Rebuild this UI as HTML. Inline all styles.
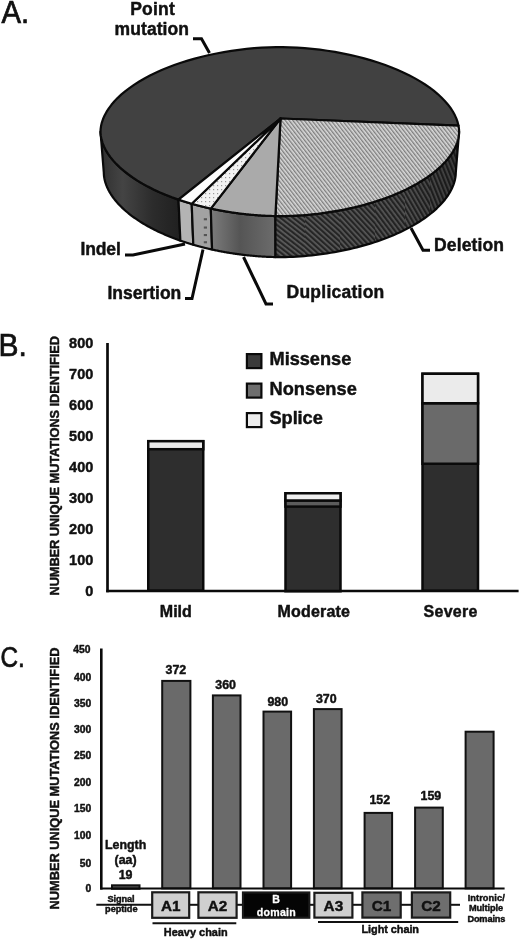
<!DOCTYPE html>
<html><head><meta charset="utf-8"><title>Figure</title>
<style>
html,body{margin:0;padding:0;background:#fff;}
body{width:520px;height:941px;overflow:hidden;font-family:"Liberation Sans",sans-serif;}
svg{display:block;filter:grayscale(1) blur(0.3px);}
text{font-family:"Liberation Sans",sans-serif;fill:#111;}
.b{font-weight:bold;stroke:#111;stroke-width:0.45px;stroke-linejoin:round;}
.pl{stroke:#111;stroke-width:0.7px;}
</style></head><body>
<svg width="520" height="941" viewBox="0 0 520 941">
<defs>
<pattern id="hatchL" width="3" height="3" patternUnits="userSpaceOnUse" patternTransform="rotate(-38)">
<rect width="3" height="3" fill="#dadada"/><rect width="1.35" height="3" fill="#7e7e7e"/>
</pattern>
<pattern id="hD0" width="3.9" height="3.9" patternUnits="userSpaceOnUse" patternTransform="rotate(-52)"><rect width="3.9" height="3.9" fill="#5e5e5e"/><rect width="2.2" height="3.9" fill="#262626"/></pattern>
<pattern id="hD1" width="3.9" height="3.9" patternUnits="userSpaceOnUse" patternTransform="rotate(-48)"><rect width="3.9" height="3.9" fill="#5e5e5e"/><rect width="2.2" height="3.9" fill="#262626"/></pattern>
<pattern id="hD2" width="3.9" height="3.9" patternUnits="userSpaceOnUse" patternTransform="rotate(-43)"><rect width="3.9" height="3.9" fill="#5e5e5e"/><rect width="2.2" height="3.9" fill="#262626"/></pattern>
<pattern id="hD3" width="3.9" height="3.9" patternUnits="userSpaceOnUse" patternTransform="rotate(-37)"><rect width="3.9" height="3.9" fill="#5e5e5e"/><rect width="2.2" height="3.9" fill="#262626"/></pattern>
<pattern id="hD4" width="3.9" height="3.9" patternUnits="userSpaceOnUse" patternTransform="rotate(-30)"><rect width="3.9" height="3.9" fill="#5e5e5e"/><rect width="2.2" height="3.9" fill="#262626"/></pattern>
<pattern id="hD5" width="3.9" height="3.9" patternUnits="userSpaceOnUse" patternTransform="rotate(-22)"><rect width="3.9" height="3.9" fill="#5e5e5e"/><rect width="2.2" height="3.9" fill="#262626"/></pattern>
<clipPath id="cDel"><path d="M459.10 131.60 L459.05 133.18 L458.90 134.88 L458.66 136.63 L458.31 138.40 L457.87 140.20 L457.33 142.01 L456.69 143.82 L455.95 145.65 L455.12 147.48 L454.19 149.31 L453.17 151.14 L452.05 152.97 L450.84 154.80 L449.53 156.62 L448.13 158.43 L446.64 160.23 L445.05 162.03 L443.38 163.81 L441.62 165.58 L439.77 167.33 L437.83 169.07 L435.81 170.80 L433.70 172.50 L431.51 174.19 L429.24 175.85 L426.88 177.50 L424.45 179.12 L421.94 180.72 L419.36 182.30 L416.70 183.85 L413.96 185.37 L411.16 186.86 L408.29 188.33 L405.35 189.77 L402.34 191.18 L399.27 192.55 L396.14 193.90 L392.95 195.21 L389.71 196.49 L386.40 197.73 L383.04 198.94 L379.64 200.11 L376.18 201.24 L372.67 202.34 L369.13 203.40 L365.54 204.42 L361.91 205.40 L358.24 206.35 L354.54 207.25 L350.80 208.11 L347.04 208.93 L343.25 209.70 L339.44 210.44 L335.61 211.13 L331.76 211.77 L327.89 212.38 L324.02 212.94 L320.13 213.45 L316.25 213.92 L312.36 214.34 L308.48 214.72 L304.61 215.06 L300.76 215.34 L296.93 215.59 L293.13 215.78 L289.38 215.93 L285.70 216.03 L282.14 216.09 L278.88 216.10 L275.40 216.06 L275.48 257.06 L278.90 257.10 L282.09 257.09 L285.59 257.03 L289.20 256.93 L292.89 256.78 L296.61 256.59 L300.37 256.34 L304.15 256.06 L307.95 255.72 L311.76 255.34 L315.57 254.92 L319.39 254.45 L323.20 253.94 L327.01 253.38 L330.80 252.77 L334.58 252.13 L338.34 251.44 L342.08 250.70 L345.80 249.93 L349.50 249.11 L353.16 248.25 L356.79 247.35 L360.39 246.40 L363.96 245.42 L367.48 244.40 L370.97 243.34 L374.41 242.24 L377.80 241.11 L381.14 239.94 L384.44 238.73 L387.68 237.49 L390.87 236.21 L394.00 234.90 L397.08 233.55 L400.09 232.18 L403.04 230.77 L405.92 229.33 L408.74 227.86 L411.49 226.37 L414.18 224.85 L416.79 223.30 L419.33 221.72 L421.79 220.12 L424.18 218.50 L426.48 216.85 L428.72 215.19 L430.87 213.50 L432.93 211.80 L434.92 210.07 L436.82 208.33 L438.64 206.58 L440.37 204.81 L442.01 203.03 L443.56 201.23 L445.03 199.43 L446.40 197.62 L447.69 195.80 L448.88 193.97 L449.98 192.14 L450.98 190.31 L451.89 188.48 L452.71 186.65 L453.43 184.82 L454.06 183.01 L454.59 181.20 L455.03 179.40 L455.36 177.63 L455.61 175.88 L455.75 174.18 L455.80 172.60 Z"/></clipPath>
<pattern id="dots" width="4" height="4" patternUnits="userSpaceOnUse">
<rect width="4" height="4" fill="#f2f2f2"/><rect x="1" y="1" width="1.2" height="1.2" fill="#999"/>
</pattern>
<linearGradient id="gDup" x1="0" x2="1" y1="0" y2="0">
<stop offset="0" stop-color="#7c7c7c"/><stop offset="0.45" stop-color="#555"/><stop offset="1" stop-color="#6c6c6c"/>
</linearGradient>
<linearGradient id="gPm" x1="0" x2="1" y1="0" y2="0">
<stop offset="0" stop-color="#303030"/><stop offset="0.28" stop-color="#444"/><stop offset="0.65" stop-color="#2c2c2c"/><stop offset="1" stop-color="#202020"/>
</linearGradient>
<linearGradient id="gDelShade" x1="0" x2="1" y1="0" y2="0">
<stop offset="0" stop-color="#000" stop-opacity="0"/><stop offset="0.7" stop-color="#000" stop-opacity="0.1"/><stop offset="1" stop-color="#000" stop-opacity="0.35"/>
</linearGradient>
</defs>
<rect width="520" height="941" fill="#fff"/>

<!-- ============ A: pie ============ -->
<g stroke="#0a0a0a" stroke-width="2.2" stroke-linejoin="round">
<path d="M178.50 199.61 L176.48 198.91 L174.48 198.20 L172.50 197.47 L170.54 196.73 L168.60 195.98 L166.68 195.22 L164.77 194.45 L162.89 193.66 L161.03 192.86 L159.19 192.05 L157.38 191.23 L155.58 190.40 L153.81 189.56 L152.06 188.70 L150.34 187.84 L148.64 186.97 L146.96 186.08 L145.31 185.19 L143.68 184.29 L142.08 183.38 L140.51 182.45 L138.96 181.52 L137.44 180.58 L135.94 179.64 L134.47 178.68 L133.03 177.71 L131.62 176.74 L130.23 175.76 L128.88 174.77 L127.55 173.78 L126.25 172.78 L124.98 171.77 L123.74 170.75 L122.53 169.73 L121.35 168.70 L120.20 167.67 L119.08 166.63 L117.99 165.59 L116.93 164.54 L115.91 163.48 L114.91 162.42 L113.95 161.36 L113.02 160.30 L112.12 159.23 L111.25 158.15 L110.42 157.08 L109.62 156.00 L108.85 154.92 L108.11 153.83 L107.41 152.75 L106.74 151.66 L106.10 150.58 L105.50 149.49 L104.93 148.40 L104.40 147.31 L103.90 146.23 L103.43 145.14 L103.00 144.06 L102.60 142.97 L102.24 141.90 L101.91 140.82 L101.61 139.75 L101.35 138.68 L101.13 137.63 L100.93 136.58 L100.78 135.53 L100.66 134.51 L100.57 133.50 L100.52 132.51 L100.50 131.60 L103.80 172.60 L103.82 173.51 L103.87 174.50 L103.95 175.51 L104.07 176.53 L104.23 177.58 L104.41 178.63 L104.64 179.68 L104.89 180.75 L105.18 181.82 L105.50 182.90 L105.86 183.97 L106.25 185.06 L106.68 186.14 L107.14 187.23 L107.63 188.31 L108.15 189.40 L108.71 190.49 L109.30 191.58 L109.93 192.66 L110.58 193.75 L111.27 194.83 L111.99 195.92 L112.75 197.00 L113.54 198.08 L114.35 199.15 L115.21 200.23 L116.09 201.30 L117.00 202.36 L117.95 203.42 L118.92 204.48 L119.93 205.54 L120.97 206.59 L122.04 207.63 L123.14 208.67 L124.27 209.70 L125.42 210.73 L126.61 211.75 L127.83 212.77 L129.08 213.78 L130.35 214.78 L131.66 215.77 L132.99 216.76 L134.35 217.74 L135.73 218.71 L137.15 219.68 L138.59 220.64 L140.06 221.58 L141.55 222.52 L143.07 223.45 L144.62 224.38 L146.19 225.29 L147.79 226.19 L149.41 227.08 L151.05 227.97 L152.72 228.84 L154.41 229.70 L156.13 230.56 L157.87 231.40 L159.63 232.23 L161.41 233.05 L163.22 233.86 L165.04 234.66 L166.89 235.45 L168.76 236.22 L170.64 236.98 L172.55 237.73 L174.48 238.47 L176.42 239.20 L178.38 239.91 L180.36 240.61 Z" fill="url(#gPm)"/>
<path d="M191.70 203.76 L191.51 203.70 L191.31 203.65 L191.12 203.59 L190.93 203.53 L190.74 203.48 L190.54 203.42 L190.35 203.37 L190.16 203.31 L189.97 203.25 L189.78 203.20 L189.58 203.14 L189.39 203.08 L189.20 203.03 L189.01 202.97 L188.82 202.91 L188.63 202.86 L188.44 202.80 L188.24 202.74 L188.05 202.68 L187.86 202.63 L187.67 202.57 L187.48 202.51 L187.29 202.45 L187.10 202.40 L186.91 202.34 L186.72 202.28 L186.53 202.22 L186.34 202.16 L186.15 202.10 L185.96 202.05 L185.77 201.99 L185.59 201.93 L185.40 201.87 L185.21 201.81 L185.02 201.75 L184.83 201.69 L184.64 201.63 L184.45 201.57 L184.27 201.51 L184.08 201.45 L183.89 201.39 L183.70 201.33 L183.51 201.27 L183.33 201.21 L183.14 201.15 L182.95 201.09 L182.76 201.03 L182.58 200.97 L182.39 200.91 L182.20 200.85 L182.02 200.79 L181.83 200.73 L181.65 200.67 L181.46 200.61 L181.27 200.55 L181.09 200.48 L180.90 200.42 L180.72 200.36 L180.53 200.30 L180.35 200.24 L180.16 200.17 L179.97 200.11 L179.79 200.05 L179.61 199.99 L179.42 199.93 L179.24 199.86 L179.05 199.80 L178.87 199.74 L178.68 199.68 L178.50 199.61 L180.36 240.61 L180.54 240.68 L180.73 240.74 L180.91 240.80 L181.09 240.86 L181.27 240.93 L181.45 240.99 L181.63 241.05 L181.81 241.11 L181.99 241.17 L182.18 241.24 L182.36 241.30 L182.54 241.36 L182.72 241.42 L182.90 241.48 L183.09 241.55 L183.27 241.61 L183.45 241.67 L183.63 241.73 L183.82 241.79 L184.00 241.85 L184.18 241.91 L184.37 241.97 L184.55 242.03 L184.73 242.09 L184.92 242.15 L185.10 242.21 L185.29 242.27 L185.47 242.33 L185.65 242.39 L185.84 242.45 L186.02 242.51 L186.21 242.57 L186.39 242.63 L186.58 242.69 L186.76 242.75 L186.95 242.81 L187.13 242.87 L187.32 242.93 L187.51 242.99 L187.69 243.05 L187.88 243.10 L188.06 243.16 L188.25 243.22 L188.44 243.28 L188.62 243.34 L188.81 243.40 L188.99 243.45 L189.18 243.51 L189.37 243.57 L189.56 243.63 L189.74 243.68 L189.93 243.74 L190.12 243.80 L190.30 243.86 L190.49 243.91 L190.68 243.97 L190.87 244.03 L191.06 244.08 L191.24 244.14 L191.43 244.20 L191.62 244.25 L191.81 244.31 L192.00 244.37 L192.19 244.42 L192.38 244.48 L192.56 244.53 L192.75 244.59 L192.94 244.65 L193.13 244.70 L193.32 244.76 Z" fill="#b4b4b4"/>
<path d="M210.80 208.55 L210.52 208.49 L210.24 208.43 L209.96 208.37 L209.68 208.31 L209.41 208.24 L209.13 208.18 L208.85 208.12 L208.57 208.06 L208.29 207.99 L208.02 207.93 L207.74 207.87 L207.46 207.81 L207.19 207.74 L206.91 207.68 L206.63 207.61 L206.35 207.55 L206.08 207.49 L205.80 207.42 L205.53 207.36 L205.25 207.29 L204.97 207.23 L204.70 207.16 L204.42 207.10 L204.15 207.03 L203.87 206.96 L203.60 206.90 L203.32 206.83 L203.05 206.76 L202.78 206.70 L202.50 206.63 L202.23 206.56 L201.95 206.49 L201.68 206.43 L201.41 206.36 L201.13 206.29 L200.86 206.22 L200.59 206.15 L200.32 206.08 L200.04 206.01 L199.77 205.94 L199.50 205.87 L199.23 205.80 L198.95 205.73 L198.68 205.66 L198.41 205.59 L198.14 205.52 L197.87 205.45 L197.60 205.38 L197.33 205.31 L197.06 205.24 L196.79 205.16 L196.52 205.09 L196.25 205.02 L195.98 204.95 L195.71 204.87 L195.44 204.80 L195.17 204.73 L194.91 204.65 L194.64 204.58 L194.37 204.51 L194.10 204.43 L193.83 204.36 L193.57 204.28 L193.30 204.21 L193.03 204.13 L192.76 204.06 L192.50 203.98 L192.23 203.91 L191.97 203.83 L191.70 203.76 L193.32 244.76 L193.58 244.83 L193.84 244.91 L194.11 244.98 L194.37 245.06 L194.63 245.13 L194.89 245.21 L195.15 245.28 L195.42 245.36 L195.68 245.43 L195.94 245.51 L196.20 245.58 L196.47 245.65 L196.73 245.73 L197.00 245.80 L197.26 245.87 L197.52 245.95 L197.79 246.02 L198.05 246.09 L198.32 246.16 L198.58 246.24 L198.85 246.31 L199.11 246.38 L199.38 246.45 L199.64 246.52 L199.91 246.59 L200.18 246.66 L200.44 246.73 L200.71 246.80 L200.98 246.87 L201.24 246.94 L201.51 247.01 L201.78 247.08 L202.05 247.15 L202.31 247.22 L202.58 247.29 L202.85 247.36 L203.12 247.43 L203.39 247.49 L203.65 247.56 L203.92 247.63 L204.19 247.70 L204.46 247.76 L204.73 247.83 L205.00 247.90 L205.27 247.96 L205.54 248.03 L205.81 248.10 L206.08 248.16 L206.35 248.23 L206.62 248.29 L206.89 248.36 L207.16 248.42 L207.44 248.49 L207.71 248.55 L207.98 248.61 L208.25 248.68 L208.52 248.74 L208.79 248.81 L209.07 248.87 L209.34 248.93 L209.61 248.99 L209.88 249.06 L210.16 249.12 L210.43 249.18 L210.70 249.24 L210.98 249.31 L211.25 249.37 L211.52 249.43 L211.80 249.49 L212.07 249.55 Z" fill="#a2a2a2"/>
<path d="M275.40 216.06 L274.53 216.05 L273.66 216.03 L272.78 216.01 L271.89 215.98 L271.00 215.95 L270.10 215.93 L269.20 215.89 L268.30 215.86 L267.39 215.82 L266.48 215.78 L265.57 215.74 L264.66 215.69 L263.74 215.64 L262.82 215.59 L261.90 215.54 L260.98 215.48 L260.06 215.43 L259.13 215.36 L258.20 215.30 L257.27 215.23 L256.34 215.16 L255.41 215.09 L254.48 215.02 L253.55 214.94 L252.62 214.86 L251.68 214.77 L250.75 214.69 L249.81 214.60 L248.88 214.51 L247.94 214.42 L247.00 214.32 L246.07 214.22 L245.13 214.12 L244.19 214.02 L243.26 213.91 L242.32 213.80 L241.38 213.69 L240.44 213.57 L239.51 213.45 L238.57 213.34 L237.63 213.21 L236.70 213.09 L235.76 212.96 L234.82 212.83 L233.89 212.70 L232.95 212.56 L232.02 212.42 L231.09 212.28 L230.15 212.14 L229.22 211.99 L228.29 211.85 L227.36 211.69 L226.43 211.54 L225.50 211.39 L224.57 211.23 L223.65 211.07 L222.72 210.90 L221.80 210.74 L220.87 210.57 L219.95 210.40 L219.03 210.22 L218.11 210.05 L217.19 209.87 L216.27 209.69 L215.36 209.50 L214.44 209.32 L213.53 209.13 L212.62 208.94 L211.71 208.75 L210.80 208.55 L212.07 249.55 L212.96 249.75 L213.86 249.94 L214.75 250.13 L215.65 250.32 L216.54 250.50 L217.44 250.69 L218.34 250.87 L219.25 251.05 L220.15 251.22 L221.05 251.40 L221.96 251.57 L222.86 251.74 L223.77 251.90 L224.68 252.07 L225.59 252.23 L226.50 252.39 L227.41 252.54 L228.33 252.69 L229.24 252.85 L230.15 252.99 L231.07 253.14 L231.98 253.28 L232.90 253.42 L233.82 253.56 L234.73 253.70 L235.65 253.83 L236.57 253.96 L237.49 254.09 L238.41 254.21 L239.33 254.34 L240.25 254.45 L241.17 254.57 L242.09 254.69 L243.01 254.80 L243.93 254.91 L244.85 255.02 L245.77 255.12 L246.69 255.22 L247.61 255.32 L248.53 255.42 L249.45 255.51 L250.36 255.60 L251.28 255.69 L252.20 255.77 L253.12 255.86 L254.03 255.94 L254.95 256.02 L255.86 256.09 L256.78 256.16 L257.69 256.23 L258.60 256.30 L259.51 256.36 L260.42 256.43 L261.33 256.48 L262.23 256.54 L263.13 256.59 L264.04 256.64 L264.94 256.69 L265.83 256.74 L266.73 256.78 L267.62 256.82 L268.51 256.86 L269.40 256.89 L270.28 256.93 L271.16 256.95 L272.03 256.98 L272.90 257.01 L273.77 257.03 L274.63 257.05 L275.48 257.06 Z" fill="url(#gDup)"/>
<g clip-path="url(#cDel)" stroke="none"><rect x="270" y="130" width="35" height="140" fill="url(#hD0)"/><rect x="305" y="130" width="35" height="140" fill="url(#hD1)"/><rect x="340" y="130" width="35" height="140" fill="url(#hD2)"/><rect x="375" y="130" width="30" height="140" fill="url(#hD3)"/><rect x="405" y="130" width="25" height="140" fill="url(#hD4)"/><rect x="430" y="130" width="42" height="140" fill="url(#hD5)"/></g>
<path d="M459.10 131.60 L459.05 133.18 L458.90 134.88 L458.66 136.63 L458.31 138.40 L457.87 140.20 L457.33 142.01 L456.69 143.82 L455.95 145.65 L455.12 147.48 L454.19 149.31 L453.17 151.14 L452.05 152.97 L450.84 154.80 L449.53 156.62 L448.13 158.43 L446.64 160.23 L445.05 162.03 L443.38 163.81 L441.62 165.58 L439.77 167.33 L437.83 169.07 L435.81 170.80 L433.70 172.50 L431.51 174.19 L429.24 175.85 L426.88 177.50 L424.45 179.12 L421.94 180.72 L419.36 182.30 L416.70 183.85 L413.96 185.37 L411.16 186.86 L408.29 188.33 L405.35 189.77 L402.34 191.18 L399.27 192.55 L396.14 193.90 L392.95 195.21 L389.71 196.49 L386.40 197.73 L383.04 198.94 L379.64 200.11 L376.18 201.24 L372.67 202.34 L369.13 203.40 L365.54 204.42 L361.91 205.40 L358.24 206.35 L354.54 207.25 L350.80 208.11 L347.04 208.93 L343.25 209.70 L339.44 210.44 L335.61 211.13 L331.76 211.77 L327.89 212.38 L324.02 212.94 L320.13 213.45 L316.25 213.92 L312.36 214.34 L308.48 214.72 L304.61 215.06 L300.76 215.34 L296.93 215.59 L293.13 215.78 L289.38 215.93 L285.70 216.03 L282.14 216.09 L278.88 216.10 L275.40 216.06 L275.48 257.06 L278.90 257.10 L282.09 257.09 L285.59 257.03 L289.20 256.93 L292.89 256.78 L296.61 256.59 L300.37 256.34 L304.15 256.06 L307.95 255.72 L311.76 255.34 L315.57 254.92 L319.39 254.45 L323.20 253.94 L327.01 253.38 L330.80 252.77 L334.58 252.13 L338.34 251.44 L342.08 250.70 L345.80 249.93 L349.50 249.11 L353.16 248.25 L356.79 247.35 L360.39 246.40 L363.96 245.42 L367.48 244.40 L370.97 243.34 L374.41 242.24 L377.80 241.11 L381.14 239.94 L384.44 238.73 L387.68 237.49 L390.87 236.21 L394.00 234.90 L397.08 233.55 L400.09 232.18 L403.04 230.77 L405.92 229.33 L408.74 227.86 L411.49 226.37 L414.18 224.85 L416.79 223.30 L419.33 221.72 L421.79 220.12 L424.18 218.50 L426.48 216.85 L428.72 215.19 L430.87 213.50 L432.93 211.80 L434.92 210.07 L436.82 208.33 L438.64 206.58 L440.37 204.81 L442.01 203.03 L443.56 201.23 L445.03 199.43 L446.40 197.62 L447.69 195.80 L448.88 193.97 L449.98 192.14 L450.98 190.31 L451.89 188.48 L452.71 186.65 L453.43 184.82 L454.06 183.01 L454.59 181.20 L455.03 179.40 L455.36 177.63 L455.61 175.88 L455.75 174.18 L455.80 172.60 Z" fill="none"/>
<path d="M459.10 131.60 L459.05 133.18 L458.90 134.88 L458.66 136.63 L458.31 138.40 L457.87 140.20 L457.33 142.01 L456.69 143.82 L455.95 145.65 L455.12 147.48 L454.19 149.31 L453.17 151.14 L452.05 152.97 L450.84 154.80 L449.53 156.62 L448.13 158.43 L446.64 160.23 L445.05 162.03 L443.38 163.81 L441.62 165.58 L439.77 167.33 L437.83 169.07 L435.81 170.80 L433.70 172.50 L431.51 174.19 L429.24 175.85 L426.88 177.50 L424.45 179.12 L421.94 180.72 L419.36 182.30 L416.70 183.85 L413.96 185.37 L411.16 186.86 L408.29 188.33 L405.35 189.77 L402.34 191.18 L399.27 192.55 L396.14 193.90 L392.95 195.21 L389.71 196.49 L386.40 197.73 L383.04 198.94 L379.64 200.11 L376.18 201.24 L372.67 202.34 L369.13 203.40 L365.54 204.42 L361.91 205.40 L358.24 206.35 L354.54 207.25 L350.80 208.11 L347.04 208.93 L343.25 209.70 L339.44 210.44 L335.61 211.13 L331.76 211.77 L327.89 212.38 L324.02 212.94 L320.13 213.45 L316.25 213.92 L312.36 214.34 L308.48 214.72 L304.61 215.06 L300.76 215.34 L296.93 215.59 L293.13 215.78 L289.38 215.93 L285.70 216.03 L282.14 216.09 L278.88 216.10 L275.40 216.06 L275.48 257.06 L278.90 257.10 L282.09 257.09 L285.59 257.03 L289.20 256.93 L292.89 256.78 L296.61 256.59 L300.37 256.34 L304.15 256.06 L307.95 255.72 L311.76 255.34 L315.57 254.92 L319.39 254.45 L323.20 253.94 L327.01 253.38 L330.80 252.77 L334.58 252.13 L338.34 251.44 L342.08 250.70 L345.80 249.93 L349.50 249.11 L353.16 248.25 L356.79 247.35 L360.39 246.40 L363.96 245.42 L367.48 244.40 L370.97 243.34 L374.41 242.24 L377.80 241.11 L381.14 239.94 L384.44 238.73 L387.68 237.49 L390.87 236.21 L394.00 234.90 L397.08 233.55 L400.09 232.18 L403.04 230.77 L405.92 229.33 L408.74 227.86 L411.49 226.37 L414.18 224.85 L416.79 223.30 L419.33 221.72 L421.79 220.12 L424.18 218.50 L426.48 216.85 L428.72 215.19 L430.87 213.50 L432.93 211.80 L434.92 210.07 L436.82 208.33 L438.64 206.58 L440.37 204.81 L442.01 203.03 L443.56 201.23 L445.03 199.43 L446.40 197.62 L447.69 195.80 L448.88 193.97 L449.98 192.14 L450.98 190.31 L451.89 188.48 L452.71 186.65 L453.43 184.82 L454.06 183.01 L454.59 181.20 L455.03 179.40 L455.36 177.63 L455.61 175.88 L455.75 174.18 L455.80 172.60 Z" fill="url(#gDelShade)" stroke="none"/>
<path d="M280.50 118.50 L178.50 199.61 L171.94 197.26 L165.60 194.78 L159.47 192.17 L153.58 189.44 L147.94 186.60 L142.56 183.65 L137.46 180.60 L132.65 177.46 L128.14 174.23 L123.94 170.92 L120.07 167.55 L116.52 164.12 L113.31 160.63 L110.45 157.11 L107.93 153.56 L105.78 149.99 L103.99 146.42 L102.56 142.87 L101.51 139.34 L100.83 135.88 L100.52 132.56 L100.59 129.47 L101.03 126.08 L101.85 122.59 L103.03 119.05 L104.59 115.49 L106.51 111.92 L108.80 108.36 L111.44 104.81 L114.43 101.31 L117.76 97.84 L121.43 94.43 L125.42 91.08 L129.73 87.80 L134.35 84.60 L139.27 81.49 L144.47 78.47 L149.94 75.56 L155.67 72.76 L161.65 70.07 L167.86 67.51 L174.29 65.07 L180.91 62.77 L187.72 60.62 L194.70 58.60 L201.82 56.74 L209.08 55.03 L216.44 53.48 L223.90 52.09 L231.42 50.87 L238.98 49.81 L246.56 48.93 L254.12 48.21 L261.62 47.68 L269.01 47.31 L276.15 47.13 L282.69 47.12 L289.79 47.28 L297.15 47.63 L304.64 48.15 L312.20 48.84 L319.78 49.71 L327.34 50.74 L334.87 51.95 L342.33 53.32 L349.71 54.85 L356.98 56.54 L364.12 58.39 L371.11 60.39 L377.94 62.53 L384.59 64.81 L391.04 67.23 L397.27 69.78 L403.28 72.45 L409.04 75.24 L414.54 78.15 L419.77 81.15 L424.72 84.25 L429.37 87.44 L433.72 90.71 L437.75 94.05 L441.45 97.46 L444.82 100.92 L447.85 104.42 L450.53 107.96 L452.85 111.52 L454.81 115.09 L456.41 118.66 L457.64 122.20 L458.50 125.70 Z" fill="#414141"/>
<path d="M280.50 118.50 L458.50 125.70 L458.75 127.14 L458.93 128.56 L459.05 129.95 L459.10 131.27 L459.08 132.51 L459.00 133.87 L458.86 135.27 L458.64 136.70 L458.37 138.15 L458.02 139.61 L457.62 141.08 L457.14 142.56 L456.60 144.05 L456.00 145.54 L455.33 147.03 L454.60 148.53 L453.80 150.02 L452.95 151.52 L452.02 153.01 L451.04 154.50 L449.99 155.99 L448.88 157.47 L447.71 158.95 L446.47 160.42 L445.18 161.89 L443.82 163.34 L442.41 164.79 L440.94 166.23 L439.41 167.66 L437.82 169.08 L436.17 170.49 L434.47 171.89 L432.71 173.27 L430.90 174.64 L429.03 176.00 L427.11 177.34 L425.14 178.67 L423.11 179.99 L421.03 181.28 L418.91 182.56 L416.73 183.83 L414.51 185.07 L412.23 186.30 L409.91 187.51 L407.55 188.70 L405.14 189.87 L402.69 191.02 L400.19 192.15 L397.65 193.26 L395.08 194.34 L392.46 195.41 L389.80 196.45 L387.11 197.47 L384.38 198.46 L381.62 199.43 L378.82 200.38 L376.00 201.30 L373.14 202.20 L370.25 203.07 L367.33 203.92 L364.38 204.74 L361.41 205.53 L358.41 206.30 L355.40 207.04 L352.36 207.76 L349.29 208.44 L346.21 209.10 L343.12 209.73 L340.01 210.33 L336.88 210.90 L333.74 211.45 L330.59 211.96 L327.43 212.45 L324.27 212.90 L321.10 213.33 L317.93 213.72 L314.75 214.09 L311.58 214.42 L308.41 214.73 L305.25 215.00 L302.10 215.25 L298.96 215.46 L295.85 215.65 L292.75 215.80 L289.69 215.92 L286.67 216.01 L283.72 216.07 L280.88 216.10 L278.26 216.09 L275.40 216.06 Z" fill="url(#hatchL)"/>
<path d="M280.50 118.50 L275.40 216.06 L274.73 216.05 L274.05 216.04 L273.36 216.02 L272.68 216.00 L271.99 215.98 L271.29 215.96 L270.60 215.94 L269.90 215.92 L269.20 215.89 L268.50 215.87 L267.80 215.84 L267.09 215.81 L266.38 215.78 L265.67 215.74 L264.96 215.71 L264.25 215.67 L263.54 215.63 L262.82 215.59 L262.11 215.55 L261.39 215.51 L260.67 215.46 L259.95 215.42 L259.23 215.37 L258.51 215.32 L257.79 215.27 L257.07 215.22 L256.34 215.16 L255.62 215.11 L254.90 215.05 L254.17 214.99 L253.45 214.93 L252.72 214.87 L251.99 214.80 L251.27 214.74 L250.54 214.67 L249.81 214.60 L249.08 214.53 L248.36 214.46 L247.63 214.38 L246.90 214.31 L246.17 214.23 L245.44 214.15 L244.71 214.07 L243.98 213.99 L243.26 213.91 L242.53 213.82 L241.80 213.74 L241.07 213.65 L240.34 213.56 L239.61 213.47 L238.88 213.38 L238.15 213.28 L237.42 213.19 L236.70 213.09 L235.97 212.99 L235.24 212.89 L234.51 212.79 L233.79 212.68 L233.06 212.58 L232.33 212.47 L231.61 212.36 L230.88 212.25 L230.15 212.14 L229.43 212.03 L228.70 211.91 L227.98 211.80 L227.26 211.68 L226.53 211.56 L225.81 211.44 L225.09 211.32 L224.37 211.19 L223.65 211.07 L222.93 210.94 L222.21 210.81 L221.49 210.68 L220.77 210.55 L220.05 210.42 L219.34 210.28 L218.62 210.15 L217.91 210.01 L217.19 209.87 L216.48 209.73 L215.76 209.59 L215.05 209.44 L214.34 209.30 L213.63 209.15 L212.92 209.00 L212.21 208.85 L211.51 208.70 L210.80 208.55 Z" fill="#aaaaaa"/>
<path d="M280.50 118.50 L210.80 208.55 L210.58 208.50 L210.37 208.45 L210.15 208.41 L209.93 208.36 L209.72 208.31 L209.50 208.26 L209.28 208.22 L209.07 208.17 L208.85 208.12 L208.63 208.07 L208.42 208.02 L208.20 207.97 L207.99 207.92 L207.77 207.88 L207.55 207.83 L207.34 207.78 L207.12 207.73 L206.91 207.68 L206.69 207.63 L206.48 207.58 L206.26 207.53 L206.05 207.48 L205.83 207.43 L205.62 207.38 L205.40 207.33 L205.19 207.28 L204.97 207.23 L204.76 207.18 L204.55 207.12 L204.33 207.07 L204.12 207.02 L203.90 206.97 L203.69 206.92 L203.48 206.87 L203.26 206.82 L203.05 206.76 L202.84 206.71 L202.62 206.66 L202.41 206.61 L202.20 206.55 L201.98 206.50 L201.77 206.45 L201.56 206.40 L201.35 206.34 L201.13 206.29 L200.92 206.24 L200.71 206.18 L200.50 206.13 L200.28 206.08 L200.07 206.02 L199.86 205.97 L199.65 205.91 L199.44 205.86 L199.23 205.80 L199.02 205.75 L198.80 205.69 L198.59 205.64 L198.38 205.59 L198.17 205.53 L197.96 205.47 L197.75 205.42 L197.54 205.36 L197.33 205.31 L197.12 205.25 L196.91 205.20 L196.70 205.14 L196.49 205.08 L196.28 205.03 L196.07 204.97 L195.86 204.92 L195.65 204.86 L195.44 204.80 L195.23 204.74 L195.02 204.69 L194.82 204.63 L194.61 204.57 L194.40 204.52 L194.19 204.46 L193.98 204.40 L193.77 204.34 L193.57 204.28 L193.36 204.23 L193.15 204.17 L192.94 204.11 L192.74 204.05 L192.53 203.99 L192.32 203.93 L192.11 203.87 L191.91 203.82 L191.70 203.76 Z" fill="url(#dots)"/>
<path d="M280.50 118.50 L191.70 203.76 L191.55 203.71 L191.40 203.67 L191.25 203.63 L191.10 203.58 L190.95 203.54 L190.80 203.50 L190.65 203.45 L190.50 203.41 L190.35 203.37 L190.20 203.32 L190.05 203.28 L189.90 203.24 L189.75 203.19 L189.60 203.15 L189.46 203.10 L189.31 203.06 L189.16 203.02 L189.01 202.97 L188.86 202.93 L188.71 202.88 L188.56 202.84 L188.41 202.79 L188.27 202.75 L188.12 202.70 L187.97 202.66 L187.82 202.61 L187.67 202.57 L187.52 202.52 L187.38 202.48 L187.23 202.43 L187.08 202.39 L186.93 202.34 L186.79 202.30 L186.64 202.25 L186.49 202.21 L186.34 202.16 L186.20 202.12 L186.05 202.07 L185.90 202.03 L185.75 201.98 L185.61 201.94 L185.46 201.89 L185.31 201.84 L185.17 201.80 L185.02 201.75 L184.87 201.71 L184.73 201.66 L184.58 201.61 L184.43 201.57 L184.29 201.52 L184.14 201.47 L183.99 201.43 L183.85 201.38 L183.70 201.33 L183.56 201.29 L183.41 201.24 L183.26 201.19 L183.12 201.15 L182.97 201.10 L182.83 201.05 L182.68 201.01 L182.54 200.96 L182.39 200.91 L182.25 200.86 L182.10 200.82 L181.96 200.77 L181.81 200.72 L181.67 200.67 L181.52 200.63 L181.38 200.58 L181.23 200.53 L181.09 200.48 L180.94 200.44 L180.80 200.39 L180.65 200.34 L180.51 200.29 L180.37 200.24 L180.22 200.20 L180.08 200.15 L179.93 200.10 L179.79 200.05 L179.65 200.00 L179.50 199.95 L179.36 199.91 L179.22 199.86 L179.07 199.81 L178.93 199.76 L178.79 199.71 L178.64 199.66 L178.50 199.61 Z" fill="#fdfdfd"/>
</g>
<!-- dots on insertion side -->
<g fill="#555">
<rect x="203.8" y="218.2" width="3.2" height="2.1"/><rect x="203.8" y="226.5" width="3.2" height="2.1"/>
<rect x="203.8" y="234" width="3.2" height="2.1"/><rect x="203.8" y="241.2" width="3.2" height="2.1"/>
</g>
<!-- leaders -->
<g fill="none" stroke="#0a0a0a" stroke-width="3" stroke-linejoin="miter" stroke-linecap="butt">
<polyline points="193,38.8 201.5,38.8 209.5,53"/>
<polyline points="125,255 133,255 185,244"/>
<polyline points="185,298.5 192,298.5 203,249.5"/>
<polyline points="273,304 266,304 243.5,257"/>
<polyline points="430,250.3 423,250.3 411,228"/>
</g>
<text class="pl" transform="translate(1.4,23.2) scale(0.93,1)" font-size="31.5">A.</text>
<g class="b" font-size="17.5">
<text x="152.5" y="14.7" text-anchor="middle" textLength="44.5">Point</text>
<text x="151.8" y="35.2" text-anchor="middle" textLength="74.5">mutation</text>
<text x="80.5" y="254.5" textLength="40.3">Indel</text>
<text x="107.5" y="299" textLength="73.8">Insertion</text>
<text x="286.5" y="297.8" textLength="97.8">Duplication</text>
<text x="434" y="251.3" textLength="70">Deletion</text>
</g>

<!-- ============ B ============ -->
<text class="pl" transform="translate(-1.5,356.3) scale(0.97,1)" font-size="31">B.</text>
<text class="b" font-size="12.8" text-anchor="middle" textLength="259.5" transform="translate(59,465.75) rotate(-90)">NUMBER UNIQUE MUTATIONS IDENTIFIED</text>
<g class="b" font-size="14.5" text-anchor="end">
<text x="93.3" y="347.7">800</text><text x="93.3" y="378.8">700</text><text x="93.3" y="409.8">600</text>
<text x="93.3" y="440.9">500</text><text x="93.3" y="471.9">400</text><text x="93.3" y="503">300</text>
<text x="93.3" y="534">200</text><text x="93.3" y="565.1">100</text><text x="93.3" y="596.1">0</text>
</g>
<!-- bars -->
<g stroke="#0a0a0a" stroke-width="2.5">
<rect x="148.25" y="441.2" width="55" height="149.5" fill="#2e2e2e"/>
<rect x="148.25" y="441.2" width="55" height="8" fill="#e9e9e9"/>
<rect x="285.5" y="493.25" width="55" height="98" fill="#2e2e2e"/>
<rect x="285.5" y="500.5" width="55" height="6.1" fill="#5c5c5c"/>
<rect x="285.5" y="493.25" width="55" height="7.25" fill="#efefef"/>
<rect x="422.5" y="373.75" width="55.5" height="217" fill="#2e2e2e"/>
<rect x="422.5" y="403.25" width="55.5" height="60.5" fill="#6a6a6a"/>
<rect x="422.5" y="373.75" width="55.5" height="29.5" fill="#ebebeb"/>
</g>
<g stroke="#0a0a0a" stroke-width="2.7" fill="none">
<line x1="107.5" y1="343" x2="107.5" y2="592.3"/>
<line x1="106.2" y1="591" x2="518.6" y2="591"/>
</g>
<g class="b" font-size="16" text-anchor="middle">
<text x="175.8" y="616.5">Mild</text><text x="313.75" y="616.5" textLength="72.5">Moderate</text><text x="450.5" y="616.5" textLength="54">Severe</text>
</g>
<!-- legend -->
<g stroke="#0a0a0a" stroke-width="2.2">
<rect x="246.9" y="354.1" width="14.5" height="14" fill="#3a3a3a"/>
<rect x="246.9" y="383.6" width="14.5" height="14" fill="#6e6e6e"/>
<rect x="246.9" y="413.1" width="14.5" height="14" fill="#ececec"/>
</g>
<g class="b" font-size="18.2">
<text x="269.5" y="365" textLength="81.8">Missense</text>
<text x="269.5" y="394.5" textLength="87.3">Nonsense</text>
<text x="269.5" y="423.8" textLength="53.3">Splice</text>
</g>

<!-- ============ C ============ -->
<text class="pl" transform="translate(0.4,666.8) scale(0.84,1)" font-size="29">C.</text>
<text class="b" font-size="12.8" text-anchor="middle" textLength="262" transform="translate(59,778.5) rotate(-90)">NUMBER UNIQUE MUTATIONS IDENTIFIED</text>
<g class="b" font-size="10.3" text-anchor="end">
<text x="90.5" y="652.7">450</text><text x="91.3" y="680.7">400</text><text x="91.3" y="707">350</text>
<text x="91.3" y="732.6">300</text><text x="91.3" y="759.2">250</text><text x="91.3" y="785.8">200</text>
<text x="91.3" y="812.3">150</text><text x="91.3" y="839.2">100</text><text x="91.3" y="866.7">50</text>
<text x="91.3" y="891.7">0</text>
</g>
<g stroke="#111" stroke-width="2" fill="#6a6a6a">
<rect x="112" y="885.3" width="27.5" height="3.5" fill="#555"/>
<rect x="162.2" y="680.9" width="28.2" height="207.5"/>
<rect x="212.9" y="695.4" width="27.6" height="193"/>
<rect x="263.5" y="711.6" width="27.6" height="176.8"/>
<rect x="313.9" y="709.1" width="27.7" height="179.3"/>
<rect x="364.6" y="812.9" width="27.5" height="75.5"/>
<rect x="415.1" y="807.6" width="27.7" height="80.8"/>
<rect x="465.6" y="731.7" width="28" height="156.7"/>
</g>
<g stroke="#0a0a0a" fill="none">
<line x1="101.3" y1="648.5" x2="101.3" y2="889.6" stroke-width="2.6"/>
<line x1="100.2" y1="888.6" x2="504.6" y2="888.6" stroke-width="2"/>
</g>
<g class="b" font-size="12.4" text-anchor="middle">
<text x="175.9" y="673.8">372</text><text x="225.6" y="689.3">360</text><text x="277.8" y="705.5">980</text>
<text x="326.3" y="702.5">370</text><text x="379.8" y="803.8">152</text><text x="430.9" y="800">159</text>
<text x="125.6" y="848.5" textLength="41.3">Length</text><text x="125.6" y="863.8">(aa)</text><text x="125.6" y="879.3">19</text>
</g>
<!-- domain track -->
<g stroke="#111" stroke-width="2" fill="none">
<line x1="96.3" y1="904.8" x2="152" y2="904.8"/>
<line x1="190" y1="904.8" x2="198" y2="904.8"/>
<line x1="237" y1="904.8" x2="243" y2="904.8"/>
<line x1="310" y1="904.8" x2="314" y2="904.8"/>
<line x1="353" y1="904.8" x2="362" y2="904.8"/>
<line x1="401" y1="904.8" x2="412" y2="904.8"/>
<line x1="451" y1="904.8" x2="460" y2="904.8"/>
</g>
<g stroke="#1a1a1a" stroke-width="2.2">
<rect x="152.2" y="892.3" width="37" height="25.5" fill="#cfcfcf"/>
<rect x="198.4" y="892.3" width="38.2" height="25.5" fill="#cfcfcf"/>
<rect x="243" y="892.5" width="66.3" height="25.2" fill="#050505"/>
<rect x="314.4" y="892.8" width="38" height="24.8" fill="#cfcfcf"/>
<rect x="362.4" y="892.4" width="38.3" height="25.2" fill="#6e6e6e"/>
<rect x="411.9" y="892.4" width="38.3" height="25.2" fill="#6e6e6e"/>
</g>
<g class="b" font-size="15.3" text-anchor="middle">
<text x="170.7" y="911.3">A1</text><text x="217.5" y="911.3">A2</text><text x="333.4" y="911.3">A3</text>
<text x="381.5" y="911.3">C1</text><text x="431" y="911.3">C2</text>
</g>
<g class="b" font-size="10.6" text-anchor="middle" fill="#fff">
<text x="276" y="902.8" style="fill:#fff;stroke:#fff;stroke-width:0.3px">B</text><text x="276.3" y="916" style="fill:#fff;stroke:#fff;stroke-width:0.3px" textLength="39">domain</text>
</g>
<g class="b" font-size="9.2" text-anchor="middle">
<text x="121" y="902" textLength="27">Signal</text><text x="121.3" y="912.4" textLength="32.5">peptide</text>
<text x="486.2" y="900.8" textLength="37">Intronic/</text><text x="486" y="911.3" textLength="34">Multiple</text><text x="486.4" y="922.3" textLength="38">Domains</text>
</g>
<g stroke="#111" stroke-width="2" fill="none">
<line x1="152.5" y1="923.3" x2="236.3" y2="923.3"/>
<line x1="318" y1="921.9" x2="458.2" y2="921.9"/>
</g>
<g class="b" font-size="10.9">
<text x="163.8" y="936.3" textLength="63.8">Heavy chain</text>
<text x="361.5" y="933.3" textLength="57.5">Light chain</text>
</g>
</svg>
</body></html>
